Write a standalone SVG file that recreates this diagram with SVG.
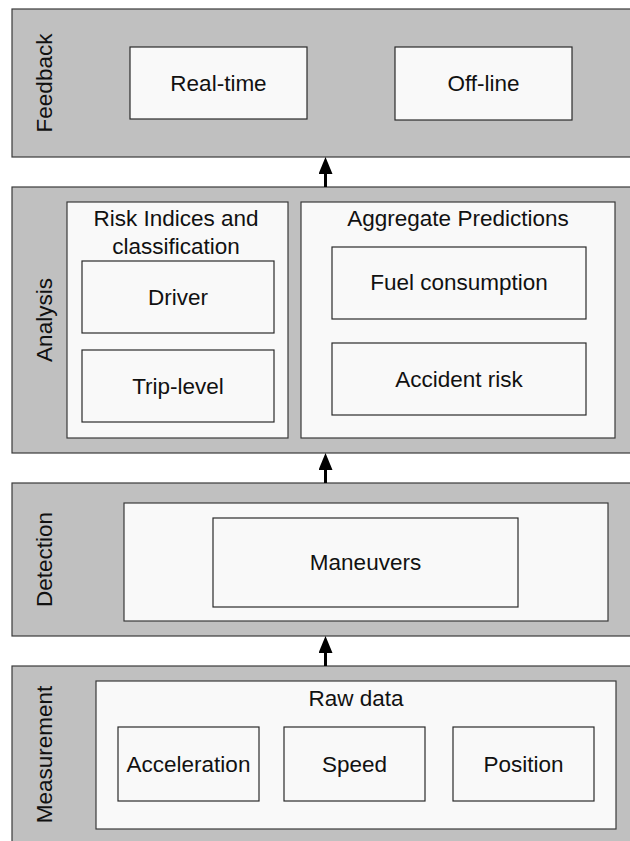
<svg xmlns="http://www.w3.org/2000/svg" width="630" height="841" viewBox="0 0 630 841">
  <style>
    .band { fill: #c0c0c0; stroke: #3a3a3a; stroke-width: 1.2; }
    .panel { fill: #f9f9f9; stroke: #3a3a3a; stroke-width: 1.2; }
    .box { fill: #f9f9f9; stroke: #2a2a2a; stroke-width: 1.2; }
    text { font-family: "Liberation Sans", Arial, sans-serif; font-size: 22.5px; fill: #111; }
    .c { text-anchor: middle; }
    .conn { stroke: #000; stroke-width: 3; fill: none; }
  </style>
  <defs>
    <marker id="arr" viewBox="0 0 17 14" refX="1" refY="7" markerWidth="17" markerHeight="14" markerUnits="userSpaceOnUse" orient="auto">
      <path d="M0,0 L17,7 L0,14 Z" fill="#000"/>
    </marker>
  </defs>
  <rect width="630" height="841" fill="#ffffff"/>

  <g id="feedback">
    <rect class="band" x="12" y="9" width="630" height="148"/>
    <text class="c" transform="translate(52,83) rotate(-90)">Feedback</text>
    <g id="realtime">
      <rect class="box" x="130" y="47" width="177" height="72"/>
      <text class="c" x="218.5" y="91">Real-time</text>
    </g>
    <g id="offline">
      <rect class="box" x="395" y="47" width="177" height="73"/>
      <text class="c" x="483.5" y="91">Off-line</text>
    </g>
  </g>

  <g id="analysis">
    <rect class="band" x="12" y="187" width="630" height="266"/>
    <text class="c" transform="translate(52,320) rotate(-90)">Analysis</text>
    <g id="risk">
      <rect class="panel" x="67" y="202" width="221" height="236"/>
      <text class="c" x="176" y="226">Risk Indices and</text>
      <text class="c" x="176" y="254">classification</text>
      <g id="driver">
        <rect class="box" x="82" y="261" width="192" height="72"/>
        <text class="c" x="178" y="305">Driver</text>
      </g>
      <g id="triplevel">
        <rect class="box" x="82" y="350" width="192" height="72"/>
        <text class="c" x="178" y="394">Trip-level</text>
      </g>
    </g>
    <g id="aggregate">
      <rect class="panel" x="301" y="202" width="314" height="236"/>
      <text class="c" x="458" y="226">Aggregate Predictions</text>
      <g id="fuel">
        <rect class="box" x="332" y="247" width="254" height="72"/>
        <text class="c" x="459" y="290">Fuel consumption</text>
      </g>
      <g id="accident">
        <rect class="box" x="332" y="343" width="254" height="72"/>
        <text class="c" x="459" y="387">Accident risk</text>
      </g>
    </g>
  </g>

  <g id="detection">
    <rect class="band" x="12" y="483" width="630" height="153"/>
    <text class="c" transform="translate(52,559.5) rotate(-90)">Detection</text>
    <rect class="panel" x="124" y="503" width="484" height="118"/>
    <g id="maneuvers">
      <rect class="box" x="213" y="518" width="305" height="89"/>
      <text class="c" x="365.5" y="570">Maneuvers</text>
    </g>
  </g>

  <g id="measurement">
    <rect class="band" x="12" y="666" width="630" height="190"/>
    <text class="c" transform="translate(52,754.5) rotate(-90)">Measurement</text>
    <g id="rawdata">
      <rect class="panel" x="96" y="681" width="520" height="148"/>
      <text class="c" x="356" y="706">Raw data</text>
      <g id="acceleration">
        <rect class="box" x="118" y="727" width="141" height="74"/>
        <text class="c" x="188.5" y="772">Acceleration</text>
      </g>
      <g id="speed">
        <rect class="box" x="284" y="727" width="141" height="74"/>
        <text class="c" x="354.5" y="772">Speed</text>
      </g>
      <g id="position">
        <rect class="box" x="453" y="727" width="141" height="74"/>
        <text class="c" x="523.5" y="772">Position</text>
      </g>
    </g>
  </g>

  <g id="connectors">
    <line class="conn" x1="325.5" y1="187" x2="325.5" y2="173" marker-end="url(#arr)"/>
    <line class="conn" x1="325.5" y1="483" x2="325.5" y2="469" marker-end="url(#arr)"/>
    <line class="conn" x1="325.5" y1="666" x2="325.5" y2="652" marker-end="url(#arr)"/>
  </g>
</svg>
